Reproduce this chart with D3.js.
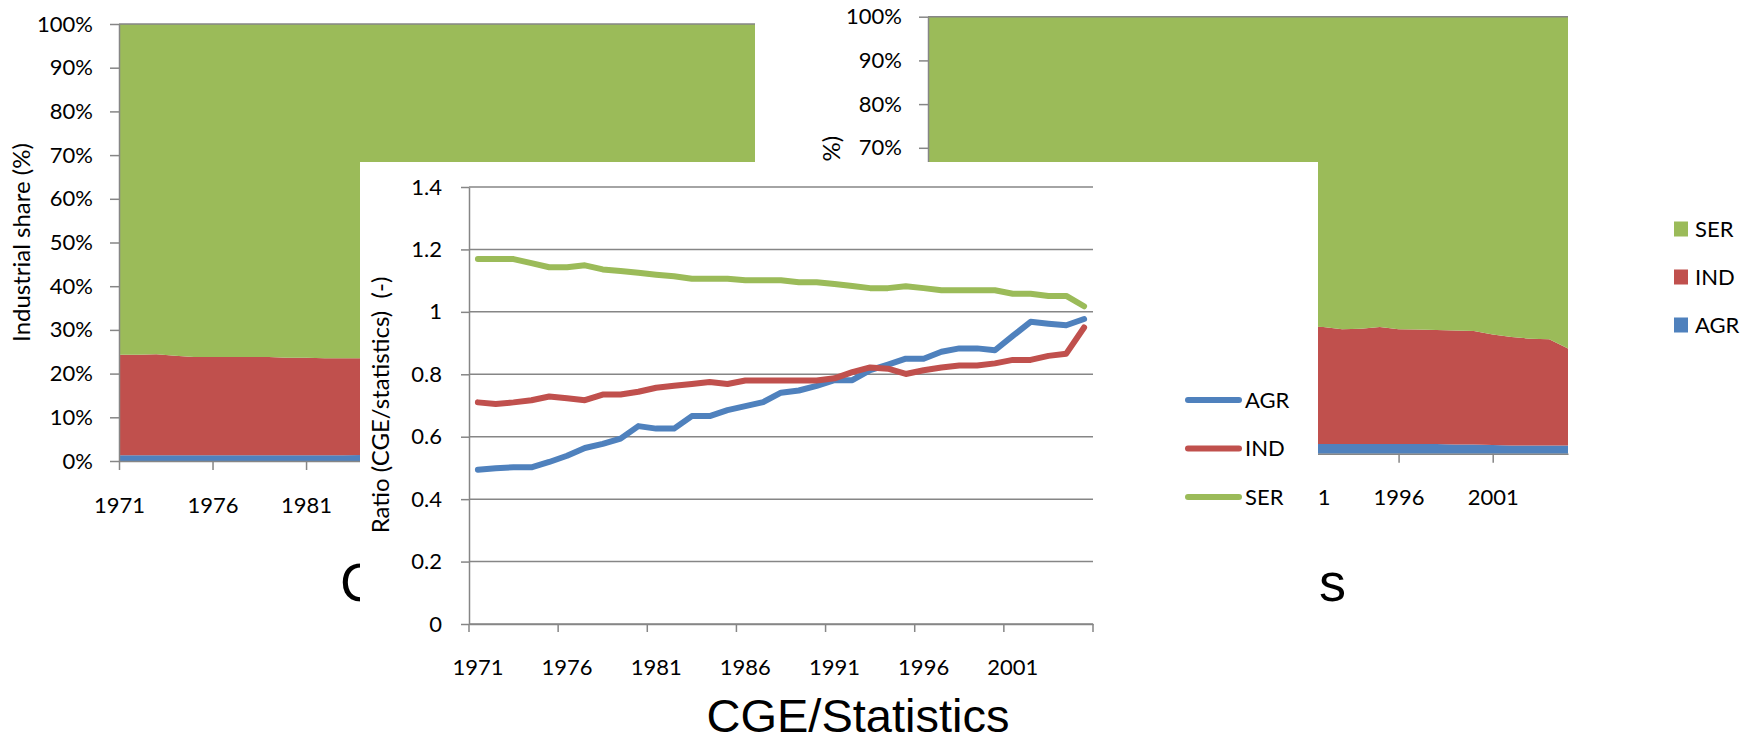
<!DOCTYPE html>
<html>
<head>
<meta charset="utf-8">
<script src="https://cdn.jsdelivr.net/npm/d3@7"></script>
<style>
  body { margin: 0; background: #fff; }
  text { font-family: Lato, "Open Sans", sans-serif; fill: #000; }
  .axis path, .axis line { stroke: #868686; stroke-width: 1.5; }
  .grid line { stroke: #868686; stroke-width: 1.5; }
  .big-title { font-family: "Liberation Sans", Arial, sans-serif; font-size: 47px; }
  .back-title { font-family: "Liberation Sans Narrow", "Liberation Sans", Arial, sans-serif; font-size: 54px; }
</style>
</head>
<body>
<svg id="chart" width="1754" height="738"></svg>
<script>
const years = [1971,1972,1973,1974,1975,1976,1977,1978,1979,1980,1981,1982,1983,1984,1985,1986,1987,1988,
               1989,1990,1991,1992,1993,1994,1995,1996,1997,1998,1999,2000,2001,2002,2003,2004,2005];
const yearTicks = [1971,1976,1981,1986,1991,1996,2001];
const pctTicks = [0,10,20,30,40,50,60,70,80,90,100];
const ratioTicks = [0,0.2,0.4,0.6,0.8,1,1.2,1.4];
const sectors = ["AGR","IND","SER"];

// CGE industrial shares (%)
const cgeAgr = [1.3,1.3,1.3,1.3,1.3,1.3,1.3,1.3,1.3,1.3,1.3,1.3,1.3,1.4,1.4,1.4,1.4,1.4,
                1.4,1.4,1.4,1.4,1.4,1.4,1.4,1.4,1.4,1.4,1.4,1.4,1.4,1.4,1.4,1.4,1.4];
const cgeInd = [23.0,23.0,23.1,22.8,22.5,22.5,22.5,22.5,22.5,22.3,22.3,22.2,22.2,22.1,22.0,22.0,21.9,21.8,
                21.8,21.7,21.6,21.5,21.5,21.4,21.4,21.3,21.2,21.2,21.1,21.0,20.9,20.8,20.7,20.6,20.4];
const cgeSer = [75.7,75.7,75.6,75.9,76.2,76.2,76.2,76.2,76.2,76.4,76.4,76.5,76.5,76.5,76.6,76.6,76.7,76.8,
                76.8,76.9,77.0,77.1,77.1,77.2,77.2,77.3,77.4,77.4,77.5,77.6,77.7,77.8,77.9,78.0,78.2];

// Statistics industrial shares (%)
const statAgr = [2.6,2.6,2.6,2.5,2.5,2.5,2.5,2.4,2.4,2.4,2.4,2.4,2.3,2.3,2.3,2.3,2.3,2.3,
                 2.2,2.2,2.2,2.2,2.2,2.2,2.2,2.2,2.2,2.2,2.1,2.1,2.0,1.9,1.9,1.9,1.9];
const statInd = [30.5,30.8,31.0,30.4,29.8,29.9,29.7,29.5,29.3,28.9,28.6,28.2,28.0,27.8,27.6,27.5,27.3,27.2,
                 27.1,27.0,26.9,26.8,26.3,26.4,26.8,26.3,26.2,26.1,26.1,26.0,25.3,24.8,24.4,24.3,22.2];
const statSer = [66.9,66.6,66.4,67.1,67.7,67.6,67.8,68.1,68.3,68.7,69.0,69.4,69.7,69.9,70.1,70.2,70.4,70.5,
                 70.7,70.8,70.9,71.0,71.5,71.4,71.0,71.5,71.6,71.7,71.8,71.9,72.7,73.3,73.7,73.8,75.9];

// Ratio CGE / statistics
const agrRatio = [0.494,0.499,0.502,0.502,0.519,0.539,0.564,0.577,0.594,0.634,0.626,0.626,0.666,0.666,0.685,0.698,0.711,0.741,
                  0.748,0.763,0.781,0.781,0.813,0.831,0.85,0.85,0.872,0.883,0.883,0.877,0.923,0.968,0.962,0.957,0.977];
const indRatio = [0.71,0.705,0.71,0.717,0.729,0.723,0.717,0.735,0.735,0.744,0.757,0.763,0.769,0.775,0.769,0.78,0.78,0.78,
                  0.78,0.78,0.787,0.807,0.822,0.818,0.801,0.813,0.822,0.828,0.828,0.835,0.846,0.846,0.859,0.866,0.95];
const serRatio = [1.169,1.169,1.169,1.156,1.143,1.143,1.149,1.136,1.131,1.125,1.119,1.114,1.106,1.106,1.106,1.101,1.101,1.101,
                  1.095,1.095,1.089,1.083,1.076,1.076,1.082,1.076,1.069,1.069,1.069,1.069,1.058,1.058,1.051,1.051,1.018];

const colours = { AGR: "#4F81BD", IND: "#C0504D", SER: "#9BBB59" };
const svg = d3.select("#chart");

function drawShareChart(agr, ind, ser, box, titleX, title, titleAnchor, titlePosX){
  const rows = years.map((yr, i) => ({ year: yr, AGR: agr[i], IND: ind[i], SER: ser[i] }));
  const stacked = d3.stack().keys(sectors)(rows);

  const x = d3.scalePoint().domain(years).range([box.left, box.right]);
  const y = d3.scaleLinear().domain([0, 100]).range([box.bottom, box.top]);

  const area = d3.area()
                 .x(d => x(d.data.year))
                 .y0(d => y(d[0]))
                 .y1(d => y(d[1]));

  const g = svg.append("g");
  g.selectAll("path.layer")
   .data(stacked)
   .join("path")
   .attr("class", "layer")
   .attr("fill", d => colours[d.key])
   .attr("d", area);

  g.append("line")
   .attr("x1", box.left).attr("x2", box.right)
   .attr("y1", y(100)).attr("y2", y(100))
   .attr("stroke", "#868686").attr("stroke-width", 1.5);

  const yAxis = g.append("g").attr("class", "axis")
                 .attr("transform", `translate(${box.left},0)`)
                 .call(d3.axisLeft(y).tickValues(pctTicks).tickFormat(d => d + "%").tickSize(9).tickSizeOuter(0).tickPadding(17));
  yAxis.selectAll("text").attr("font-size", 22);

  const xAxis = g.append("g").attr("class", "axis")
                 .attr("transform", `translate(0,${box.bottom})`)
                 .call(d3.axisBottom(x).tickValues(yearTicks).tickSize(9).tickSizeOuter(0));
  xAxis.selectAll("text").attr("font-size", 22).attr("y", 44).attr("dy", "0.35em");

  g.append("text")
   .attr("transform", `translate(${titleX},${(box.top + box.bottom) / 2}) rotate(-90)`)
   .attr("text-anchor", "middle")
   .attr("dy", "0.35em")
   .attr("font-size", 24)
   .text("Industrial share (%)");

  g.append("text")
   .attr("class", "back-title")
   .attr("x", titlePosX)
   .attr("y", 601)
   .attr("text-anchor", titleAnchor)
   .text(title);
}

drawShareChart(cgeAgr, cgeInd, cgeSer, { left: 119, right: 755, top: 24, bottom: 461 }, 22, "CGE", "start", 340);
drawShareChart(statAgr, statInd, statSer, { left: 928, right: 1568, top: 16.7, bottom: 453.7 }, 832, "Statistics", "end", 1346);

// legend of the share charts
const shareLegend = svg.append("g")
  .selectAll("g")
  .data(["SER","IND","AGR"])
  .join("g")
  .attr("transform", (d, i) => `translate(1674,${229 + i * 48})`);
shareLegend.append("rect")
  .attr("x", 0).attr("y", -7.5).attr("width", 14).attr("height", 15)
  .attr("fill", d => colours[d]);
shareLegend.append("text")
  .attr("x", 21).attr("dy", "0.35em").attr("font-size", 22)
  .text(d => d);

// ratio chart drawn on top
const panel = svg.append("g");
panel.append("rect")
     .attr("x", 360).attr("y", 162)
     .attr("width", 1318 - 360).attr("height", 738 - 162)
     .attr("fill", "#fff");

const rx = d3.scaleBand().domain(years).range([469, 1093]);
const ry = d3.scaleLinear().domain([0, 1.4]).range([624, 187]);
const cx = yr => rx(yr) + rx.bandwidth() / 2;

panel.append("g").attr("class", "grid")
     .selectAll("line")
     .data(ratioTicks)
     .join("line")
     .attr("x1", 469).attr("x2", 1093)
     .attr("y1", d => ry(d)).attr("y2", d => ry(d));

const ryAxis = panel.append("g").attr("class", "axis")
                    .attr("transform", "translate(469,0)")
                    .call(d3.axisLeft(ry).tickValues(ratioTicks).tickFormat(d3.format("~g")).tickSize(8).tickSizeOuter(0).tickPadding(19));
ryAxis.selectAll("text").attr("font-size", 22);

const rxAxis = panel.append("g").attr("class", "axis")
                    .attr("transform", "translate(0,624)")
                    .call(d3.axisBottom(rx).tickValues(yearTicks).tickSize(0).tickSizeOuter(0));
rxAxis.selectAll("text").attr("font-size", 22).attr("y", 43).attr("dy", "0.35em");

const boundaries = yearTicks.map(yr => rx(yr)).concat([rx.range()[1]]);
panel.append("g")
     .selectAll("line")
     .data(boundaries)
     .join("line")
     .attr("x1", d => d).attr("x2", d => d)
     .attr("y1", 624).attr("y2", 632)
     .attr("stroke", "#868686").attr("stroke-width", 1.5);

const ratioSeries = [
  { key: "AGR", values: agrRatio },
  { key: "IND", values: indRatio },
  { key: "SER", values: serRatio }
];

const line = d3.line()
               .x((d, i) => cx(years[i]))
               .y(d => ry(d));

panel.append("g")
     .selectAll("path")
     .data(ratioSeries)
     .join("path")
     .attr("fill", "none")
     .attr("stroke", d => colours[d.key])
     .attr("stroke-width", 6)
     .attr("stroke-linejoin", "round")
     .attr("stroke-linecap", "round")
     .attr("d", d => line(d.values));

panel.append("text")
     .attr("transform", "translate(381,405) rotate(-90)")
     .attr("text-anchor", "middle")
     .attr("dy", "0.35em")
     .attr("font-size", 24)
     .text("Ratio (CGE/statistics)\u00a0\u00a0(-)");

const ratioLegend = panel.append("g")
  .selectAll("g")
  .data(sectors)
  .join("g")
  .attr("transform", (d, i) => `translate(1186,${400 + i * 48.5})`);
ratioLegend.append("line")
  .attr("x1", 2).attr("x2", 53)
  .attr("stroke", d => colours[d])
  .attr("stroke-width", 6)
  .attr("stroke-linecap", "round");
ratioLegend.append("text")
  .attr("x", 59).attr("dy", "0.35em").attr("font-size", 22)
  .text(d => d);

panel.append("text")
     .attr("class", "big-title")
     .attr("x", 858).attr("y", 732)
     .attr("text-anchor", "middle")
     .text("CGE/Statistics");
</script>
</body>
</html>
